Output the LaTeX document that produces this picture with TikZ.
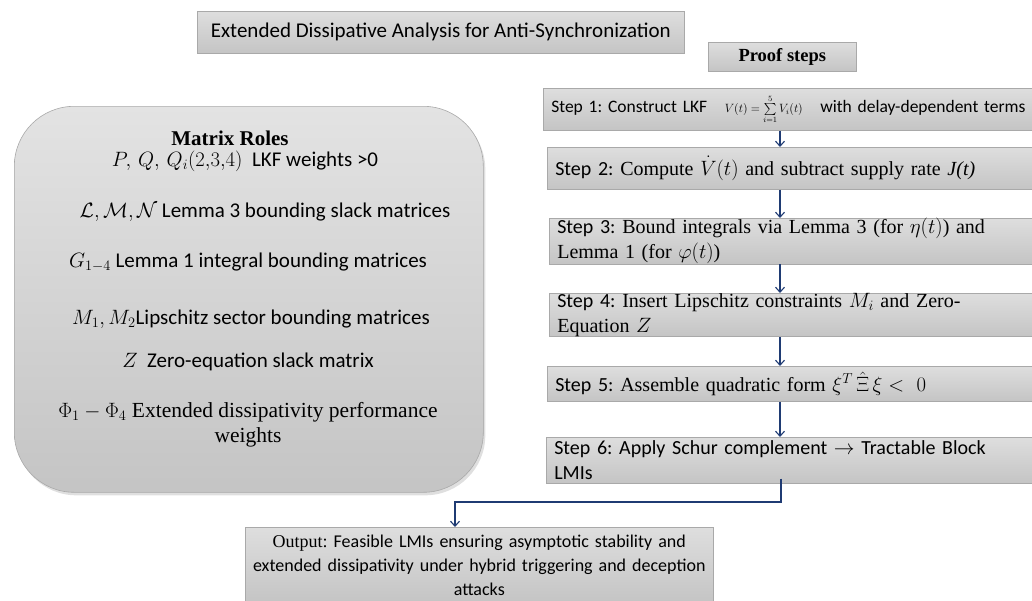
\documentclass[tikz,border=0pt]{standalone}
\usepackage{fontspec}
\setmainfont{Liberation Serif}
\setsansfont{Carlito}
\usepackage{amsmath}
\usepackage{tikz}
\usetikzlibrary{calc, positioning, arrows.meta, shadows}
\frenchspacing

\definecolor{boxline}{HTML}{A9A9A9}
\definecolor{flowblue}{HTML}{1F3B73}

\tikzset{
	graybox/.style={draw=boxline, line width=0.6pt, top color=gray!26, bottom color=gray!46, inner sep=0pt},
	stepbox/.style={graybox, anchor=north west, minimum width=520pt, text width=504pt, inner xsep=8pt, align=left, font=\rmfamily\fontsize{20}{25}\selectfont},
	roleline/.style={font=\sffamily\fontsize{21}{24}\selectfont},
	flow/.style={draw=flowblue, line width=1.1pt, -{Straight Barb[length=5pt, width=9pt]}},
}

\begin{document}
\begin{tikzpicture}[x=1pt, y=-1pt]
	\useasboundingbox (0,0) rectangle (1032,600);
	
	\node [graybox, anchor=north west, minimum width=487pt, minimum height=42pt, font=\sffamily\fontsize{21}{24}\selectfont] (title) at (197,11) {Extended Dissipative Analysis for Anti-Synchronization};
	\node [graybox, anchor=north west, minimum width=148pt, minimum height=29pt, font=\bfseries\fontsize{18.5}{21}\selectfont] (proof) at (708,42) {Proof steps};
	
	\node [graybox, anchor=north west, minimum width=469pt, minimum height=386pt, rounded corners=60pt, top color=gray!22, bottom color=gray!46, drop shadow={opacity=0.25, shadow xshift=2pt, shadow yshift=-3pt}] (roles) at (14,106) {};
	\node [font=\bfseries\fontsize{21}{24}\selectfont] (rtitle) at (230,138) {Matrix Roles};
	\node [roleline] (r1) at (245,161) {$P,\,Q,\,Q_i(2{,}3{,}4)$\ \ LKF weights >0};
	\node [roleline] (r2) at (265,212) {$\mathcal{L},\mathcal{M},\mathcal{N}$ Lemma 3 bounding slack matrices};
	\node [roleline] (r3) at (248,262) {$G_{1-4}$ Lemma 1 integral bounding matrices};
	\node [roleline] (r4) at (251,319) {$M_1,M_2$Lipschitz sector bounding matrices};
	\node [roleline] (r5) at (248,362) {$Z$\ \ Zero-equation slack matrix};
	\node [align=center, font=\rmfamily\fontsize{21.5}{25}\selectfont] (r6) at (248,425) {$\Phi_1-\Phi_4$ Extended dissipativity performance\\ weights};
	
	\node [stepbox, minimum height=42pt, font=\sffamily\fontsize{17.5}{20}\selectfont] (s1) at (543,88) {Step 1: Construct LKF\ \ \ {\rmfamily\fontsize{11.5}{12}\selectfont$V(t)=\sum\limits_{i=1}^{5}V_i(t)$}\ \ \ with delay-dependent terms};
	\node [stepbox, minimum height=42pt] (s2) at (547,147) {\textsf{Step 2:} Compute $\dot{V}(t)$ and subtract supply rate \textit{J(t)}};
	\node [stepbox, minimum height=43pt] (s3) at (549,218) {\textsf{Step 3:} Bound integrals via Lemma 3 (for $\eta(t)$) and\\ Lemma 1 (for $\varphi(t)$)};
	\node [stepbox, minimum height=41pt] (s4) at (549,293) {\textsf{Step 4:} Insert Lipschitz constraints $M_i$ and Zero-\\ Equation $Z$};
	\node [stepbox, minimum height=35pt] (s5) at (547,366) {\textsf{Step 5:} Assemble quadratic form $\xi^T\,\hat{\Xi}\,\xi <\ 0$};
	\node [stepbox, minimum height=46pt, font=\sffamily\fontsize{20}{25}\selectfont] (s6) at (546,437) {Step 6: Apply Schur complement $\rightarrow$ Tractable Block\\ LMIs};
	
	\node [graybox, anchor=north west, minimum width=468pt, minimum height=76pt, text width=460pt, align=center, font=\sffamily\fontsize{18}{24}\selectfont] (out) at (245,527) {{\rmfamily Output:} Feasible LMIs ensuring asymptotic stability and\\ extended dissipativity under hybrid triggering and deception\\ attacks};
	
	\coordinate (spine) at (780,0);
	\coordinate (bend) at (455,502);
	\draw [flow] (s1.south -| spine) -- (s2.north -| spine);
	\draw [flow] (s2.south -| spine) -- (s3.north -| spine);
	\draw [flow] (s3.south -| spine) -- (s4.north -| spine);
	\draw [flow] (s4.south -| spine) -- (s5.north -| spine);
	\draw [flow] (s5.south -| spine) -- (s6.north -| spine);
	\draw [flow] ($(s6.south -| spine)+(1,-5)$) |- (bend) -- (bend |- out.north);
	
\end{tikzpicture}
\end{document}
